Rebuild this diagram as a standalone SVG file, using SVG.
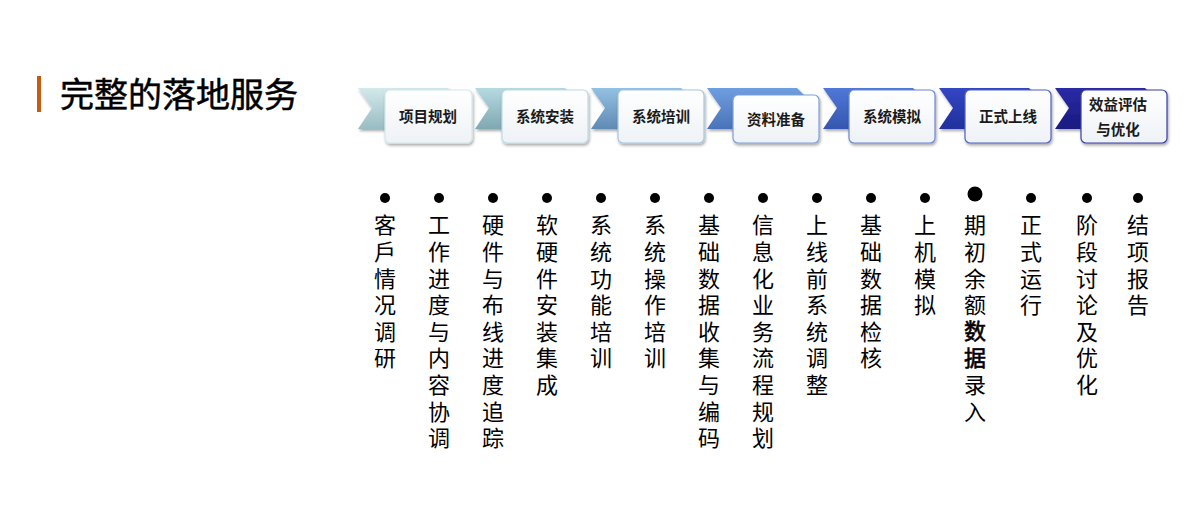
<svg xmlns="http://www.w3.org/2000/svg" width="1203" height="525" viewBox="0 0 1203 525">
<style>
.title{font-family:"Noto Sans CJK SC","Noto Sans",sans-serif;font-size:34px;fill:#000;stroke:#000;stroke-width:0.5}
.lbl{font-family:"Noto Sans CJK SC","Noto Sans",sans-serif;font-size:14.5px;font-weight:bold;fill:#1a1a1a;text-anchor:middle}
.col{font-family:"Noto Sans CJK SC","Noto Sans",sans-serif;font-size:22px;fill:#000;writing-mode:vertical-rl;letter-spacing:4.6px}
.box{stroke-width:1.2}
.dot{fill:#000}
.bd{stroke:#000;stroke-width:0.6}
</style>
<defs>
<filter id="sh" x="-10%" y="-10%" width="130%" height="140%">
<feGaussianBlur in="SourceAlpha" stdDeviation="1.5"/>
<feOffset dx="1" dy="2" result="b"/>
<feComponentTransfer><feFuncA type="linear" slope="0.35"/></feComponentTransfer>
<feMerge><feMergeNode/><feMergeNode in="SourceGraphic"/></feMerge>
</filter>
<linearGradient id="bx" x1="0" y1="0" x2="0" y2="1">
<stop offset="0" stop-color="#ffffff"/><stop offset="1" stop-color="#eef2f6"/>
</linearGradient>
<linearGradient id="g1" x1="0" y1="0" x2="0" y2="1"><stop offset="0" stop-color="#d3e9ec"/><stop offset="1" stop-color="#98bcc2"/></linearGradient>
<linearGradient id="g2" x1="0" y1="0" x2="0" y2="1"><stop offset="0" stop-color="#b6dae2"/><stop offset="1" stop-color="#7fa8b2"/></linearGradient>
<linearGradient id="g3" x1="0" y1="0" x2="0" y2="1"><stop offset="0" stop-color="#94c1e2"/><stop offset="1" stop-color="#5f8ab5"/></linearGradient>
<linearGradient id="g4" x1="0" y1="0" x2="0" y2="1"><stop offset="0" stop-color="#6f9ee0"/><stop offset="1" stop-color="#4a73b8"/></linearGradient>
<linearGradient id="g5" x1="0" y1="0" x2="0" y2="1"><stop offset="0" stop-color="#5078d8"/><stop offset="1" stop-color="#3556b0"/></linearGradient>
<linearGradient id="g6" x1="0" y1="0" x2="0" y2="1"><stop offset="0" stop-color="#3446c4"/><stop offset="1" stop-color="#20309c"/></linearGradient>
<linearGradient id="g7" x1="0" y1="0" x2="0" y2="1"><stop offset="0" stop-color="#2a2aa6"/><stop offset="1" stop-color="#1a1a80"/></linearGradient>
<path id="chev" d="M0,0 H90 L110,20 L90,41 H0 L14,20 Z"/>
</defs>
<rect width="1203" height="525" fill="#ffffff"/>

<g id="title">
<rect x="37" y="76" width="4" height="36" fill="#C55A11"/>
<text class="title" x="60" y="107">完整的落地服务</text>
</g>

<g id="connectors"></g>

<g id="step1">
<use href="#chev" x="358" y="88" fill="url(#g1)" filter="url(#sh)"/>
<rect class="box" x="385" y="90" width="87" height="53" rx="5" fill="url(#bx)" stroke="#d2e8ec" filter="url(#sh)"/>
<text class="lbl" x="428" y="122">项目规划</text>
</g>
<g id="step2">
<use href="#chev" x="475" y="88" fill="url(#g2)" filter="url(#sh)"/>
<rect class="box" x="502" y="90" width="86" height="53" rx="5" fill="url(#bx)" stroke="#bddce5" filter="url(#sh)"/>
<text class="lbl" x="545" y="122">系统安装</text>
</g>
<g id="step3">
<use href="#chev" x="591" y="88" fill="url(#g3)" filter="url(#sh)"/>
<rect class="box" x="618" y="90" width="86" height="53" rx="5" fill="url(#bx)" stroke="#a6c5e0" filter="url(#sh)"/>
<text class="lbl" x="661" y="122">系统培训</text>
</g>
<g id="step4">
<use href="#chev" x="707" y="88" fill="url(#g4)" filter="url(#sh)"/>
<rect class="box" x="733" y="95" width="86" height="48" rx="5" fill="url(#bx)" stroke="#7c9fd9" filter="url(#sh)"/>
<text class="lbl" x="776" y="125">资料准备</text>
</g>
<g id="step5">
<use href="#chev" x="823" y="88" fill="url(#g5)" filter="url(#sh)"/>
<rect class="box" x="849" y="90" width="86" height="53" rx="5" fill="url(#bx)" stroke="#6a86d6" filter="url(#sh)"/>
<text class="lbl" x="892" y="122">系统模拟</text>
</g>
<g id="step6">
<use href="#chev" x="939" y="88" fill="url(#g6)" filter="url(#sh)"/>
<rect class="box" x="965" y="90" width="86" height="53" rx="5" fill="url(#bx)" stroke="#4f60c4" filter="url(#sh)"/>
<text class="lbl" x="1008" y="122">正式上线</text>
</g>
<g id="step7">
<use href="#chev" x="1055" y="88" fill="url(#g7)" filter="url(#sh)"/>
<rect class="box" x="1081" y="90" width="86" height="53" rx="5" fill="url(#bx)" stroke="#3a3fa6" filter="url(#sh)"/>
<text class="lbl" x="1118" y="110">效益评估</text>
<text class="lbl" x="1118" y="135">与优化</text>
</g>

<g id="items">
<g id="item1"><circle class="dot" cx="385" cy="198" r="5"/><text class="col" x="385" y="214">客戶情况调研</text></g>
<g id="item2"><circle class="dot" cx="439" cy="198" r="5"/><text class="col" x="439" y="214">工作进度与内容协调</text></g>
<g id="item3"><circle class="dot" cx="493" cy="198" r="5"/><text class="col" x="493" y="214">硬件与布线进度追踪</text></g>
<g id="item4"><circle class="dot" cx="547" cy="198" r="5"/><text class="col" x="547" y="214">软硬件安装集成</text></g>
<g id="item5"><circle class="dot" cx="601" cy="198" r="5"/><text class="col" x="601" y="214">系统功能培训</text></g>
<g id="item6"><circle class="dot" cx="655" cy="198" r="5"/><text class="col" x="655" y="214">系统操作培训</text></g>
<g id="item7"><circle class="dot" cx="709" cy="198" r="5"/><text class="col" x="709" y="214">基础数据收集与编码</text></g>
<g id="item8"><circle class="dot" cx="763" cy="198" r="5"/><text class="col" x="763" y="214">信息化业务流程规划</text></g>
<g id="item9"><circle class="dot" cx="817" cy="198" r="5"/><text class="col" x="817" y="214">上线前系统调整</text></g>
<g id="item10"><circle class="dot" cx="871" cy="198" r="5"/><text class="col" x="871" y="214">基础数据检核</text></g>
<g id="item11"><circle class="dot" cx="925" cy="198" r="5"/><text class="col" x="925" y="214">上机模拟</text></g>
<g id="item12"><circle class="dot" cx="975" cy="194" r="7.5"/><text class="col" x="975" y="214">期初余额<tspan class="bd">数据</tspan>录入</text></g>
<g id="item13"><circle class="dot" cx="1031" cy="198" r="5"/><text class="col" x="1031" y="214">正式运行</text></g>
<g id="item14"><circle class="dot" cx="1087" cy="198" r="5"/><text class="col" x="1087" y="214">阶段讨论及优化</text></g>
<g id="item15"><circle class="dot" cx="1138" cy="198" r="5"/><text class="col" x="1138" y="214">结项报告</text></g>
</g>
</svg>
